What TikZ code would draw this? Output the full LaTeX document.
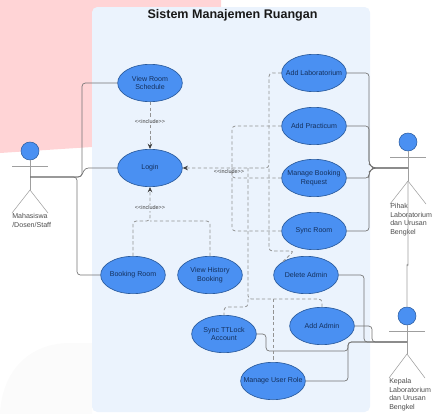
\documentclass[tikz,border=0pt]{standalone}
\usepackage{xcolor}
\usepackage{fontspec}
\setmainfont{Liberation Sans}
\usetikzlibrary{shapes.geometric, arrows.meta, positioning, calc}

\definecolor{blush}{HTML}{FFD4D6}
\definecolor{smoke}{HTML}{FBFBFB}
\definecolor{panelblue}{HTML}{EBF3FD}
\definecolor{casefill}{HTML}{4A90F2}
\definecolor{caseline}{HTML}{2B5C9E}
\definecolor{casetext}{HTML}{14305C}

\tikzset{
    usecase/.style={ellipse, draw=caseline, fill=casefill, line width=0.5pt, minimum width=48.5pt, minimum height=28pt, inner xsep=-15pt, inner ysep=-8pt, align=center, font=\fontsize{5.3}{6.6}\selectfont, text=casetext},
    head/.style={circle, draw=caseline, fill=casefill, line width=0.4pt, minimum size=13.5pt, inner sep=0pt},
    limb/.style={draw=gray!75, line width=0.4pt},
    actorname/.style={align=left, anchor=north west, inner sep=0pt, font=\fontsize{5.3}{6.4}\selectfont, text=black!70},
    assoc/.style={draw=black!55, line width=0.5pt, rounded corners=2.5pt},
    include/.style={draw=gray!85, line width=0.6pt, dash pattern=on 2.5pt off 1.8pt, rounded corners=2.5pt},
    tip/.style={-{Stealth[length=4pt, width=3.5pt, black!75, sep=0pt]}},
    stereo/.style={font=\fontsize{4.1}{5}\selectfont, text=black!75, inner sep=0.5pt}
}

\begin{document}
\begin{tikzpicture}[x=0.75pt, y=-0.75pt]
\useasboundingbox (0,0) rectangle (432,414);
% Backdrop
\fill[blush] (0,0) -- (221,0) -- (221,30) -- (92,147) -- (0,153) -- cycle;
\fill[smoke] (0,414) .. controls (2,370) and (30,343) .. (70,343) -- (92,343) -- (92,414) -- cycle;
\fill[panelblue, rounded corners=4pt] (92,7) rectangle (370,412);
\node[font=\bfseries\fontsize{9.4}{11}\selectfont, text=black!90] (title) at (232.5,15) {Sistem Manajemen Ruangan};

% Use cases
\node[usecase] (schedule) at (150,83) {View Room\\Schedule};
\node[usecase] (login) at (150,168) {Login};
\node[usecase] (booking) at (133,275) {Booking Room};
\node[usecase] (history) at (210,275) {View History\\Booking};
\node[usecase] (addlab) at (314,73) {Add Laboratorium};
\node[usecase] (addprac) at (314,126) {Add Practicum};
\node[usecase] (manbook) at (314,178) {Manage Booking\\Request};
\node[usecase] (syncroom) at (314,231) {Sync Room};
\node[usecase] (deladmin) at (306,275) {Delete Admin};
\node[usecase] (addadmin) at (322,326) {Add Admin};
\node[usecase] (ttlock) at (224,334) {Sync TTLock\\Account};
\node[usecase] (userrole) at (273,381) {Manage User Role};

% Actors
\foreach \who/\x/\y/\w/\b/\l in {
    left/30/151/18/190/213,
    mid/408/142/18/181/204,
    low/407/316/18/354/378
} {
    \node[head] (head\who) at (\x,\y) {};
    \coordinate (body\who) at (\x,\b);
    \draw[limb] (head\who) -- (body\who);
    \draw[limb] (\x-\w,\y+15) -- (\x+\w,\y+15);
    \draw[limb] (\x-\w,\l) -- (body\who) -- (\x+\w,\l);
}
\node[actorname] (nameleft) at (12,213.5) {Mahasiswa\\/Dosen/Staff};
\node[actorname] (namemid) at (390,203.5) {Pihak\\Laboratorium\\dan Urusan\\Bengkel};
\node[actorname] (namelow) at (389,378.5) {Kepala\\Laboratorium\\dan Urusan\\Bengkel};
\coordinate (hipleft) at (30,177);
\coordinate (hipmid) at (408,168);
\coordinate (hiplow) at (407,342);

% Associations
\draw[assoc] (hipleft) -- (82,177) |- (schedule.west);
\draw[assoc] (hipleft) -- (81,177) -- (85,168) -- (login.west);
\draw[assoc] (hipleft) -- (77,177) |- (booking.west);
\draw[assoc] (addlab.east) -| (369,164) -- (373,168) -- (hipmid);
\draw[assoc] (addprac.east) -| (369,164) -- (373,168) -- (hipmid);
\draw[assoc] (manbook.east) -| (369,172) -- (373,168) -- (hipmid);
\draw[assoc] (syncroom.east) -| (369,172) -- (373,168) -- (hipmid);
\draw[assoc] (deladmin.east) -| (364,342) -- (hiplow);
\draw[assoc] (addadmin.east) -- (372,326) |- (hiplow);
\draw[assoc] (ttlock.east) -- (266,334) |- (348,351) -- (348,342) -- (hiplow);
\draw[assoc] (userrole.east) -| (348,342) -- (hiplow);
\draw[limb, rounded corners=1pt] (bodymid) -- (408,265) -- (407,265) -- (headlow);

% Includes
\draw[include, tip] (schedule) -- (login);
\draw[include, tip] (booking) |- (150,221) -- (login);
\draw[include] (history) |- (150,221);
\node[stereo, fill=panelblue] (inctop) at (150,122) {<{}<include>{}>};
\node[stereo, fill=panelblue] (incbot) at (150,208) {<{}<include>{}>};

\draw[include, tip] (addlab.west) -| (269,168) -- (login.east);
\draw[include] (addprac.west) -| (232,168);
\draw[include] (manbook.west) -| (232,168);
\draw[include] (syncroom.west) -| (232,168);
\draw[include] (deladmin.north west) -- (294,251) -| (269,168);
\draw[include] (248,168) -- (248,299) -- (322,299) -- (addadmin.north);
\draw[include] (273,299) -- (userrole.north);
\draw[include] (248,299) -- (248,307) -- (224,307) -- (ttlock.north);
\node[stereo] (incright) at (229,171.5) {<{}<include>{}>};
\end{tikzpicture}
\end{document}
